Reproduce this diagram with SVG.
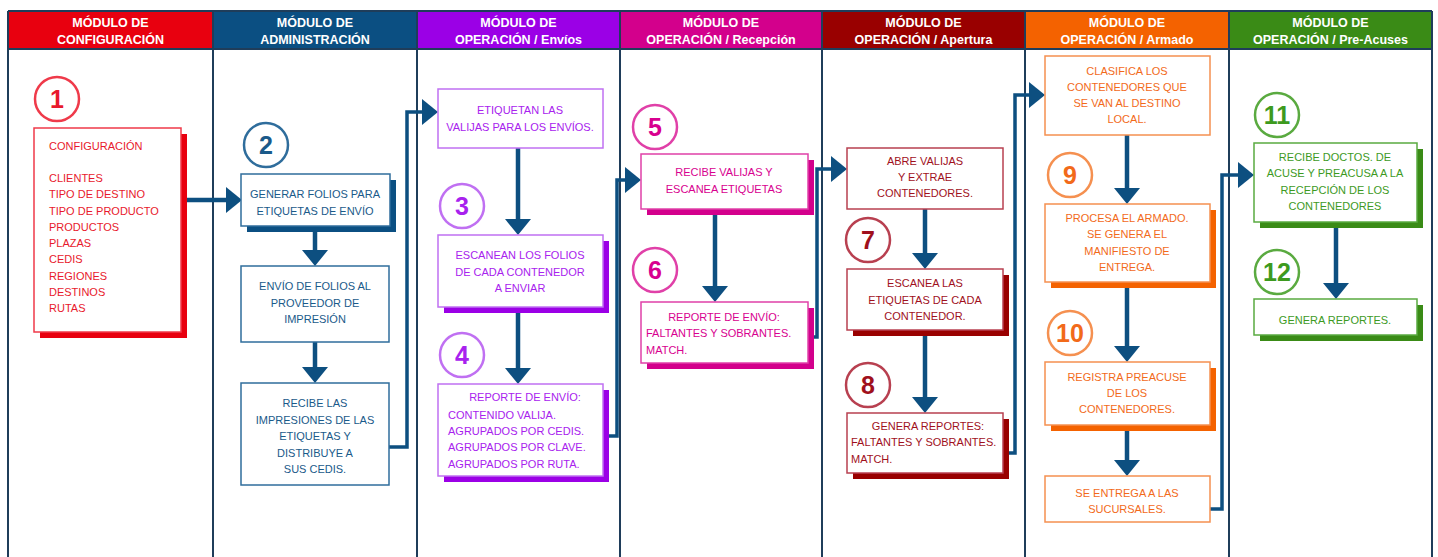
<svg xmlns="http://www.w3.org/2000/svg" width="1438" height="557" viewBox="0 0 1438 557">
<style>
.hd{font-family:"Liberation Sans",Arial,sans-serif;font-size:12.5px;font-weight:bold;fill:#fff;text-anchor:middle}
.tx{font-family:"Liberation Sans",Arial,sans-serif;font-size:11px;text-anchor:middle}
.tl{text-anchor:start}
.num{font-family:"Liberation Sans",Arial,sans-serif;font-size:25px;font-weight:bold;text-anchor:middle}
.box{fill:#fff;stroke-width:1.5}
.cir{fill:#fff;stroke-width:2.5}
.sep{stroke:#1f3d5a;stroke-width:2;fill:none}
.cn{stroke:#0d4f80;fill:none;stroke-width:4.5;marker-end:url(#ah)}
.el{stroke:#0d4f80;fill:none;stroke-width:3.5;marker-end:url(#ah)}
.fR{fill:#e8192c}.sR{stroke:#ef3a4a}
.fN{fill:#1a5a8a}.sN{stroke:#2f6d9c}
.fP{fill:#a822ee}.sP{stroke:#c070f2}
.fM{fill:#d8008f}.sM{stroke:#e040a8}
.fD{fill:#a0101c}.sD{stroke:#b84050}
.fO{fill:#f26a1a}.sO{stroke:#f59050}
.fG{fill:#3d9a1e}.sG{stroke:#5aaa40}
.shR{fill:#e8000f}.shN{fill:#0b4f82}.shP{fill:#9b00e6}.shM{fill:#d3008c}.shD{fill:#990000}.shO{fill:#f46200}.shG{fill:#3a8b16}
</style>
<defs>
<marker id="ah" viewBox="0 0 16 26" refX="5" refY="13" markerWidth="16" markerHeight="26" markerUnits="userSpaceOnUse" orient="auto">
<path d="M0,0 L16,13 L0,26 Z" fill="#0d4f80"/>
</marker>
</defs>
<rect width="1438" height="557" fill="#fff"/>

<g id="headers">
<rect class="shR" x="8" y="11" width="205" height="38"/>
<rect class="shN" x="213" y="11" width="204" height="38"/>
<rect class="shP" x="417" y="11" width="203" height="38"/>
<rect class="shM" x="620" y="11" width="202" height="38"/>
<rect class="shD" x="822" y="11" width="203" height="38"/>
<rect class="shO" x="1025" y="11" width="204" height="38"/>
<rect class="shG" x="1229" y="11" width="203" height="38"/>
<text class="hd" x="110.5" y="27">MÓDULO DE</text><text class="hd" x="110.5" y="44">CONFIGURACIÓN</text>
<text class="hd" x="315" y="27">MÓDULO DE</text><text class="hd" x="315" y="44">ADMINISTRACIÓN</text>
<text class="hd" x="518.5" y="27">MÓDULO DE</text><text class="hd" x="518.5" y="44">OPERACIÓN / Envíos</text>
<text class="hd" x="721" y="27">MÓDULO DE</text><text class="hd" x="721" y="44">OPERACIÓN / Recepción</text>
<text class="hd" x="923.5" y="27">MÓDULO DE</text><text class="hd" x="923.5" y="44">OPERACIÓN / Apertura</text>
<text class="hd" x="1127" y="27">MÓDULO DE</text><text class="hd" x="1127" y="44">OPERACIÓN / Armado</text>
<text class="hd" x="1330.5" y="27">MÓDULO DE</text><text class="hd" x="1330.5" y="44">OPERACIÓN / Pre-Acuses</text>
</g>

<g id="lanes">
<line class="sep" x1="8" y1="11" x2="1432" y2="11"/>
<line class="sep" x1="8" y1="49" x2="1432" y2="49"/>
<line class="sep" x1="8" y1="11" x2="8" y2="557"/>
<line class="sep" x1="213" y1="11" x2="213" y2="557"/>
<line class="sep" x1="417" y1="11" x2="417" y2="557"/>
<line class="sep" x1="620" y1="11" x2="620" y2="557"/>
<line class="sep" x1="822" y1="11" x2="822" y2="557"/>
<line class="sep" x1="1025" y1="11" x2="1025" y2="557"/>
<line class="sep" x1="1229" y1="11" x2="1229" y2="557"/>
<line class="sep" x1="1432" y1="11" x2="1432" y2="557"/>
</g>

<g id="connectors">
<line class="cn" x1="183" y1="200" x2="231" y2="200"/>
<line class="cn" x1="315" y1="232" x2="315" y2="255"/>
<line class="cn" x1="315" y1="342" x2="315" y2="372"/>
<polyline class="el" points="389,447 407,447 407,112 427,112"/>
<line class="cn" x1="518" y1="148" x2="518" y2="224"/>
<line class="cn" x1="518" y1="313" x2="518" y2="373"/>
<polyline class="el" points="609,436 617,436 617,180 630,180"/>
<line class="cn" x1="715" y1="215" x2="715" y2="291"/>
<polyline class="el" points="814,337 817,337 817,169 836,169"/>
<line class="cn" x1="925" y1="209" x2="925" y2="258"/>
<line class="cn" x1="925" y1="336" x2="925" y2="402"/>
<polyline class="el" points="1009,453 1015,453 1015,95 1034,95"/>
<line class="cn" x1="1127" y1="135" x2="1127" y2="193"/>
<line class="cn" x1="1127" y1="288" x2="1127" y2="351"/>
<line class="cn" x1="1127" y1="431" x2="1127" y2="465"/>
<polyline class="el" points="1210,509 1222,509 1222,175 1243,175"/>
<line class="cn" x1="1336" y1="228" x2="1336" y2="288"/>
</g>

<g id="n1">
<circle class="cir sR" cx="57" cy="99" r="22"/>
<text class="num fR" x="57" y="108">1</text>
<rect class="shR" x="40" y="134" width="147" height="204"/>
<rect class="box sR" x="34" y="128" width="147" height="204"/>
<text class="tx tl fR" x="49" y="150">CONFIGURACIÓN<tspan x="49" y="182">CLIENTES</tspan><tspan x="49" dy="16.25">TIPO DE DESTINO</tspan><tspan x="49" dy="16.25">TIPO DE PRODUCTO</tspan><tspan x="49" dy="16.25">PRODUCTOS</tspan><tspan x="49" dy="16.25">PLAZAS</tspan><tspan x="49" dy="16.25">CEDIS</tspan><tspan x="49" dy="16.25">REGIONES</tspan><tspan x="49" dy="16.25">DESTINOS</tspan><tspan x="49" dy="16.25">RUTAS</tspan></text>
</g>

<g id="n2">
<circle class="cir sN" cx="266" cy="145" r="22"/>
<text class="num fN" x="266" y="154">2</text>
<rect class="shN" x="247" y="180" width="149" height="52"/>
<rect class="box sN" x="241" y="174" width="149" height="52"/>
<text class="tx fN" x="315" y="198">GENERAR FOLIOS PARA<tspan x="315" dy="17">ETIQUETAS DE ENVÍO</tspan></text>
</g>
<g id="n2b">
<rect class="box sN" x="241" y="266" width="148" height="76"/>
<text class="tx fN" x="315" y="290">ENVÍO DE FOLIOS AL<tspan x="315" dy="16.5">PROVEEDOR DE</tspan><tspan x="315" dy="16.5">IMPRESIÓN</tspan></text>
</g>
<g id="n2c">
<rect class="box sN" x="241" y="383" width="148" height="102"/>
<text class="tx fN" x="315" y="407">RECIBE LAS<tspan x="315" dy="16.5">IMPRESIONES DE LAS</tspan><tspan x="315" dy="16.5">ETIQUETAS Y</tspan><tspan x="315" dy="16.5">DISTRIBUYE A</tspan><tspan x="315" dy="16.5">SUS CEDIS.</tspan></text>
</g>

<g id="n3a">
<rect class="box sP" x="438" y="89" width="165" height="59"/>
<text class="tx fP" x="520" y="114">ETIQUETAN LAS<tspan x="520" dy="17">VALIJAS PARA LOS ENVÍOS.</tspan></text>
</g>
<g id="n3">
<circle class="cir sP" cx="462" cy="206" r="22"/>
<text class="num fP" x="462" y="215">3</text>
<rect class="shP" x="444" y="241" width="165" height="72"/>
<rect class="box sP" x="438" y="235" width="165" height="72"/>
<text class="tx fP" x="520" y="259">ESCANEAN LOS FOLIOS<tspan x="520" dy="16.5">DE CADA CONTENEDOR</tspan><tspan x="520" dy="16.5">A ENVIAR</tspan></text>
</g>
<g id="n4">
<circle class="cir sP" cx="462" cy="355" r="22"/>
<text class="num fP" x="462" y="364">4</text>
<rect class="shP" x="444" y="390" width="165" height="92"/>
<rect class="box sP" x="438" y="384" width="165" height="92"/>
<text class="tx fP" x="525" y="401">REPORTE DE ENVÍO:</text>
<text class="tx tl fP" x="448" y="419">CONTENIDO VALIJA.<tspan x="448" dy="16.2">AGRUPADOS POR CEDIS.</tspan><tspan x="448" dy="16.2">AGRUPADOS POR CLAVE.</tspan><tspan x="448" dy="16.2">AGRUPADOS POR RUTA.</tspan></text>
</g>

<g id="n5">
<circle class="cir sM" cx="655" cy="127" r="22"/>
<text class="num fM" x="655" y="136">5</text>
<rect class="shM" x="647" y="160" width="167" height="55"/>
<rect class="box sM" x="641" y="154" width="167" height="55"/>
<text class="tx fM" x="724" y="176">RECIBE VALIJAS Y<tspan x="724" dy="17">ESCANEA ETIQUETAS</tspan></text>
</g>
<g id="n6">
<circle class="cir sM" cx="655" cy="270" r="22"/>
<text class="num fM" x="655" y="279">6</text>
<rect class="shM" x="647" y="308" width="167" height="61"/>
<rect class="box sM" x="641" y="302" width="167" height="61"/>
<text class="tx fM" x="724" y="321">REPORTE DE ENVÍO:</text>
<text class="tx tl fM" x="646" y="337">FALTANTES Y SOBRANTES.<tspan x="646" dy="17">MATCH.</tspan></text>
</g>

<g id="n7a">
<rect class="box sD" x="847" y="148" width="156" height="61"/>
<text class="tx fD" x="925" y="165">ABRE VALIJAS<tspan x="925" dy="16">Y EXTRAE</tspan><tspan x="925" dy="16">CONTENEDORES.</tspan></text>
</g>
<g id="n7">
<circle class="cir sD" cx="868" cy="240" r="22"/>
<text class="num fD" x="868" y="249">7</text>
<rect class="shD" x="853" y="275" width="156" height="61"/>
<rect class="box sD" x="847" y="269" width="156" height="61"/>
<text class="tx fD" x="925" y="287">ESCANEA LAS<tspan x="925" dy="16.5">ETIQUETAS DE CADA</tspan><tspan x="925" dy="16.5">CONTENEDOR.</tspan></text>
</g>
<g id="n8">
<circle class="cir sD" cx="868" cy="385" r="22"/>
<text class="num fD" x="868" y="394">8</text>
<rect class="shD" x="853" y="419" width="156" height="60"/>
<rect class="box sD" x="847" y="413" width="156" height="60"/>
<text class="tx fD" x="928" y="430">GENERA REPORTES:</text>
<text class="tx tl fD" x="851" y="446">FALTANTES Y SOBRANTES.<tspan x="851" dy="17">MATCH.</tspan></text>
</g>

<g id="n9a">
<rect class="box sO" x="1045" y="56" width="165" height="79"/>
<text class="tx fO" x="1127" y="75">CLASIFICA LOS<tspan x="1127" dy="16">CONTENEDORES QUE</tspan><tspan x="1127" dy="16">SE VAN AL DESTINO</tspan><tspan x="1127" dy="16">LOCAL.</tspan></text>
</g>
<g id="n9">
<circle class="cir sO" cx="1070" cy="175" r="22"/>
<text class="num fO" x="1070" y="184">9</text>
<rect class="shO" x="1051" y="210" width="165" height="78"/>
<rect class="box sO" x="1045" y="204" width="165" height="78"/>
<text class="tx fO" x="1127" y="222">PROCESA EL ARMADO.<tspan x="1127" dy="16.3">SE GENERA EL</tspan><tspan x="1127" dy="16.3">MANIFIESTO DE</tspan><tspan x="1127" dy="16.3">ENTREGA.</tspan></text>
</g>
<g id="n10">
<circle class="cir sO" cx="1070" cy="333" r="22"/>
<text class="num fO" x="1070" y="342">10</text>
<rect class="shO" x="1051" y="368" width="165" height="63"/>
<rect class="box sO" x="1045" y="362" width="165" height="63"/>
<text class="tx fO" x="1127" y="381">REGISTRA PREACUSE<tspan x="1127" dy="16">DE LOS</tspan><tspan x="1127" dy="16">CONTENEDORES.</tspan></text>
</g>
<g id="n10b">
<rect class="box sO" x="1045" y="476" width="165" height="46"/>
<text class="tx fO" x="1127" y="497">SE ENTREGA A LAS<tspan x="1127" dy="15.5">SUCURSALES.</tspan></text>
</g>

<g id="n11">
<circle class="cir sG" cx="1277" cy="115" r="22"/>
<text class="num fG" x="1277" y="124">11</text>
<rect class="shG" x="1260" y="149" width="163" height="79"/>
<rect class="box sG" x="1254" y="143" width="163" height="79"/>
<text class="tx fG" x="1335" y="161">RECIBE DOCTOS. DE<tspan x="1335" dy="16.4">ACUSE Y PREACUSA A LA</tspan><tspan x="1335" dy="16.4">RECEPCIÓN DE LOS</tspan><tspan x="1335" dy="16.4">CONTENEDORES</tspan></text>
</g>
<g id="n12">
<circle class="cir sG" cx="1277" cy="272" r="22"/>
<text class="num fG" x="1277" y="281">12</text>
<rect class="shG" x="1260" y="305" width="163" height="36"/>
<rect class="box sG" x="1254" y="299" width="163" height="36"/>
<text class="tx fG" x="1335" y="324">GENERA REPORTES.</text>
</g>
</svg>
